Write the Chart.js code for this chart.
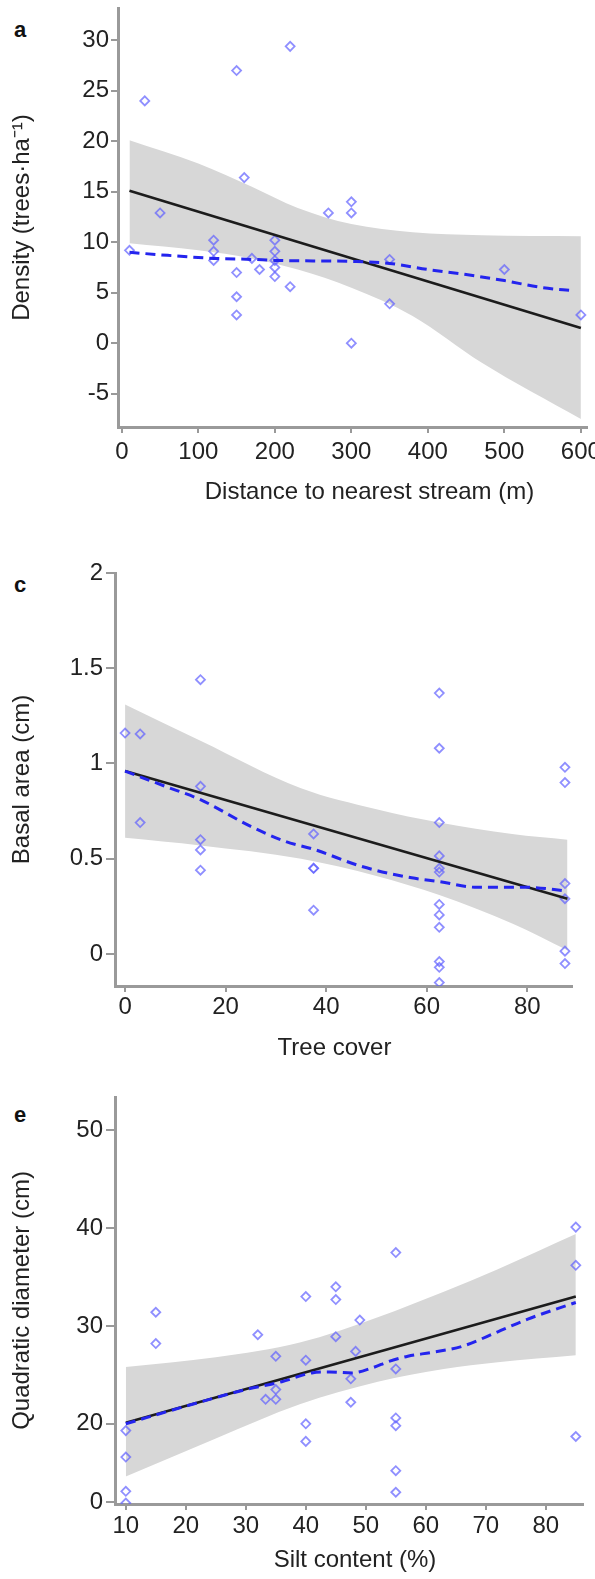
<!DOCTYPE html>
<html>
<head>
<meta charset="utf-8">
<script src="https://cdn.jsdelivr.net/npm/chart.js@4.4.1/dist/chart.umd.min.js"></script>
<style>
  html, body { margin: 0; padding: 0; background: #fff; }
  body { position: relative; width: 595px; height: 1579px; overflow: hidden; font-family: "Liberation Sans", Arial, sans-serif; }
  canvas { position: absolute; left: 0; }
  .letter { position: absolute; left: 14px; font-weight: bold; font-size: 22px; line-height: 22px; color: #111; }
</style>
</head>
<body>
<div class="letter" style="top:19px">a</div>
<div class="letter" style="top:574px">c</div>
<div class="letter" style="top:1104px">e</div>
<canvas id="chartA" width="595" height="530" style="top:0"></canvas>
<canvas id="chartC" width="595" height="530" style="top:545px"></canvas>
<canvas id="chartE" width="595" height="504" style="top:1075px"></canvas>
<script>
// panel a: density vs distance to stream
const ptXA = [10, 30, 50, 120, 120, 120, 150, 150, 150, 150, 160, 170, 180, 200, 200, 200, 200, 200, 220, 220, 270, 300, 300, 300, 350, 350, 500, 600];
const ptYA = [9.2, 24, 12.9, 10.2, 9.1, 8.2, 27.0, 7.0, 4.6, 2.8, 16.4, 8.4, 7.3, 10.2, 9.1, 8.2, 7.5, 6.6, 29.4, 5.6, 12.9, 14.0, 12.9, 0, 8.3, 3.9, 7.3, 2.8];
const fitXA = [10, 600];
const fitYA = [15.1, 1.5];
const loXA = [10, 60, 120, 170, 200, 250, 300, 350, 400, 450, 500, 550, 590];
const loYA = [9.0, 8.7, 8.4, 8.3, 8.2, 8.15, 8.1, 7.9, 7.3, 6.8, 6.2, 5.5, 5.2];
const bandXA = [10, 100, 170, 230, 300, 380, 470, 600];
const bandHiA = [20.1, 17.8, 15.5, 13.4, 11.8, 11.0, 10.7, 10.6];
const bandLoA = [9.9, 9.2, 8.4, 7.3, 5.5, 2.7, -1.9, -7.5];
const xTicksA = [0, 100, 200, 300, 400, 500, 600];
const yTicksA = [-5, 0, 5, 10, 15, 20, 25, 30];
const yLabelsA = ['-5', '0', '5', '10', '15', '20', '25', '30'];

// panel c: basal area vs tree cover
const ptXC = [0, 3, 3, 15, 15, 15, 15, 15, 37.5, 37.5, 37.5, 37.5,
  62.5, 62.5, 62.5, 62.5, 62.5, 62.5, 62.5, 62.5, 62.5, 62.5, 62.5, 62.5,
  87.5, 87.5, 87.5, 87.5, 87.5, 87.5];
const ptYC = [1.16, 1.155, 0.69, 1.44, 0.88, 0.60, 0.546, 0.44, 0.63, 0.45, 0.45, 0.23,
  1.37, 1.08, 0.69, 0.515, 0.45, 0.43, 0.26, 0.205, 0.14, -0.04, -0.07, -0.15,
  0.98, 0.90, 0.37, 0.29, 0.015, -0.05];
const fitXC = [0, 88];
const fitYC = [0.96, 0.29];
const loXC = [0, 8, 15, 25, 32, 37.5, 47, 57, 62.5, 70, 80, 88];
const loYC = [0.96, 0.88, 0.81, 0.67, 0.59, 0.55, 0.46, 0.40, 0.38, 0.35, 0.35, 0.33];
const bandXC = [0, 15, 35, 50, 62.5, 77, 88];
const bandHiC = [1.31, 1.12, 0.87, 0.76, 0.69, 0.63, 0.60];
const bandLoC = [0.61, 0.57, 0.50, 0.41, 0.31, 0.16, 0.02];
const xTicksC = [0, 20, 40, 60, 80];
const yTicksC = [0, 0.5, 1, 1.5, 2];
const yLabelsC = ['0', '0.5', '1', '1.5', '2'];

// panel e: quadratic diameter vs silt content
const ptXE = [10, 10, 10, 10, 15, 15, 32, 33.3, 35, 35, 35, 40, 40, 40, 40, 45, 45, 45,
  47.5, 47.5, 48.3, 49, 55, 55, 55, 55, 55, 55, 85, 85, 85];
const ptYE = [19.3, 16.6, 13.1, 11.9, 31.4, 28.2, 29.1, 22.5, 26.9, 23.5, 22.5, 33.0, 26.5, 20.0, 18.2, 34.0, 32.7, 28.9,
  24.6, 22.2, 27.4, 30.6, 37.5, 25.6, 20.6, 19.8, 15.2, 13.0, 40.1, 36.2, 18.7];
const fitXE = [10, 85];
const fitYE = [20.1, 33.0];
const loXE = [10, 20, 30, 36, 41, 44, 47.7, 51, 54, 57, 61, 66, 72, 77, 85];
const loYE = [20.0, 21.8, 23.5, 24.3, 25.2, 25.3, 25.2, 25.7, 26.4, 26.9, 27.3, 27.9, 29.4, 30.7, 32.4];
const bandXE = [10, 25, 39, 52, 63, 72, 85];
const bandHiE = [25.8, 26.8, 28.3, 30.9, 33.5, 35.8, 39.4];
const bandLoE = [14.6, 18.5, 22.0, 24.3, 25.6, 26.3, 27.0];
const xTicksE = [10, 20, 30, 40, 50, 60, 70, 80];
const yTicksE = [12, 20, 30, 40, 50];
const yLabelsE = ['0', '20', '30', '40', '50'];

const FONT = '"Liberation Sans", Arial, Helvetica, sans-serif';
const pair = (xs, ys) => xs.map((x, i) => ({ x: x, y: ys[i] }));

function makePanel(id, p) {
  return new Chart(document.getElementById(id), {
    type: 'line',
    data: {
      datasets: [
        { data: pair(p.bandX, p.bandLo), borderWidth: 0, pointRadius: 0, fill: false, cubicInterpolationMode: 'monotone', order: 3 },
        { data: pair(p.bandX, p.bandHi), borderWidth: 0, pointRadius: 0, fill: '-1', backgroundColor: '#d7d7d7', cubicInterpolationMode: 'monotone', order: 3 },
        { data: pair(p.ptX, p.ptY), showLine: false, pointStyle: 'rectRot', pointRadius: 4.5,
          pointBorderWidth: 1.8, pointBorderColor: 'rgba(95,95,255,0.7)', pointBackgroundColor: 'rgba(255,255,255,0)', order: 2 },
        { data: pair(p.fitX, p.fitY), borderColor: '#1c1c1c', borderWidth: 2.6, pointRadius: 0, fill: false, order: 1 },
        { data: pair(p.loX, p.loY), borderColor: '#2424ee', borderWidth: 3, borderDash: [10, 6], pointRadius: 0,
          fill: false, cubicInterpolationMode: 'monotone', order: 0 }
      ]
    },
    options: {
      responsive: false,
      animation: false,
      events: [],
      layout: { padding: { top: p.padTop, right: p.padRight, left: 0, bottom: 0 } },
      plugins: { legend: { display: false }, tooltip: { enabled: false } },
      scales: {
        x: {
          type: 'linear', min: p.xMin, max: p.xMax,
          afterBuildTicks: s => { s.ticks = p.xTicks.map(v => ({ value: v })); },
          afterFit: s => {
            s.height = p.xH; s.paddingLeft = 0; s.paddingRight = 0;
            // the figure's axis titles are not centred on the plot area
            if (!s._titleShifted) {
              const draw = s.drawTitle;
              s.drawTitle = function () {
                this.ctx.save();
                this.ctx.translate(p.xTitleDx, 0);
                draw.call(this);
                this.ctx.restore();
              };
              s._titleShifted = true;
            }
          },
          ticks: { font: { size: 24, family: FONT }, color: '#222', padding: p.xTickPad, maxRotation: 0, minRotation: 0, autoSkip: false,
                   callback: v => String(v) },
          grid: { drawOnChartArea: false, drawTicks: true, tickLength: 6, color: '#999', lineWidth: 2 },
          border: { display: true, color: '#9a9a9a', width: 3 },
          title: { display: true, text: p.xTitle, font: { size: 24, family: FONT }, color: '#222', padding: { top: 0, bottom: p.xTitlePad } }
        },
        y: {
          type: 'linear', min: p.yMin, max: p.yMax,
          afterBuildTicks: s => { s.ticks = p.yTicks.map(v => ({ value: v })); },
          afterFit: s => { s.width = p.yW; s.paddingTop = 0; s.paddingBottom = 0; },
          ticks: { font: { size: 24, family: FONT }, color: '#222', padding: p.yTickPad, autoSkip: false,
                   callback: (v, i) => p.yLabels[i] },
          grid: { drawOnChartArea: false, drawTicks: true, tickLength: p.yTickLen, color: '#999', lineWidth: 2 },
          border: { display: true, color: '#9a9a9a', width: 3 },
          title: { display: true, text: p.yTitle, font: { size: 24, family: FONT }, color: '#222', padding: { top: 8, bottom: 0 } }
        }
      }
    }
  });
}

makePanel('chartA', {
  ptX: ptXA, ptY: ptYA, fitX: fitXA, fitY: fitYA, loX: loXA, loY: loYA,
  bandX: bandXA, bandHi: bandHiA, bandLo: bandLoA,
  xTicks: xTicksA, yTicks: yTicksA, yLabels: yLabelsA,
  xMin: -5, xMax: 608, yMin: -8.3, yMax: 33.2,
  padTop: 8, padRight: 8, xH: 103, yW: 118,
  xTickPad: 5, yTickPad: 2, yTickLen: 7, xTitlePad: 23, xTitleDx: 17,
  xTitle: 'Distance to nearest stream (m)', yTitle: 'Density (trees·ha⁻¹)'
});

makePanel('chartC', {
  ptX: ptXC, ptY: ptYC, fitX: fitXC, fitY: fitYC, loX: loXC, loY: loYC,
  bandX: bandXC, bandHi: bandHiC, bandLo: bandLoC,
  xTicks: xTicksC, yTicks: yTicksC, yLabels: yLabelsC,
  xMin: -2, xMax: 88.9, yMin: -0.168, yMax: 2,
  padTop: 28, padRight: 23, xH: 89, yW: 115,
  xTickPad: 1, yTickPad: 3, yTickLen: 9, xTitlePad: 12, xTitleDx: -9,
  xTitle: 'Tree cover', yTitle: 'Basal area (cm)'
});

makePanel('chartE', {
  ptX: ptXE, ptY: ptYE, fitX: fitXE, fitY: fitYE, loX: loXE, loY: loYE,
  bandX: bandXE, bandHi: bandHiE, bandLo: bandLoE,
  xTicks: xTicksE, yTicks: yTicksE, yLabels: yLabelsE,
  xMin: 8.2, xMax: 86.2, yMin: 11.8, yMax: 53.4,
  padTop: 22, padRight: 12, xH: 75, yW: 115,
  xTickPad: 2, yTickPad: 3, yTickLen: 9, xTitlePad: 4, xTitleDx: 6,
  xTitle: 'Silt content (%)', yTitle: 'Quadratic diameter (cm)'
});
</script>
</body>
</html>
